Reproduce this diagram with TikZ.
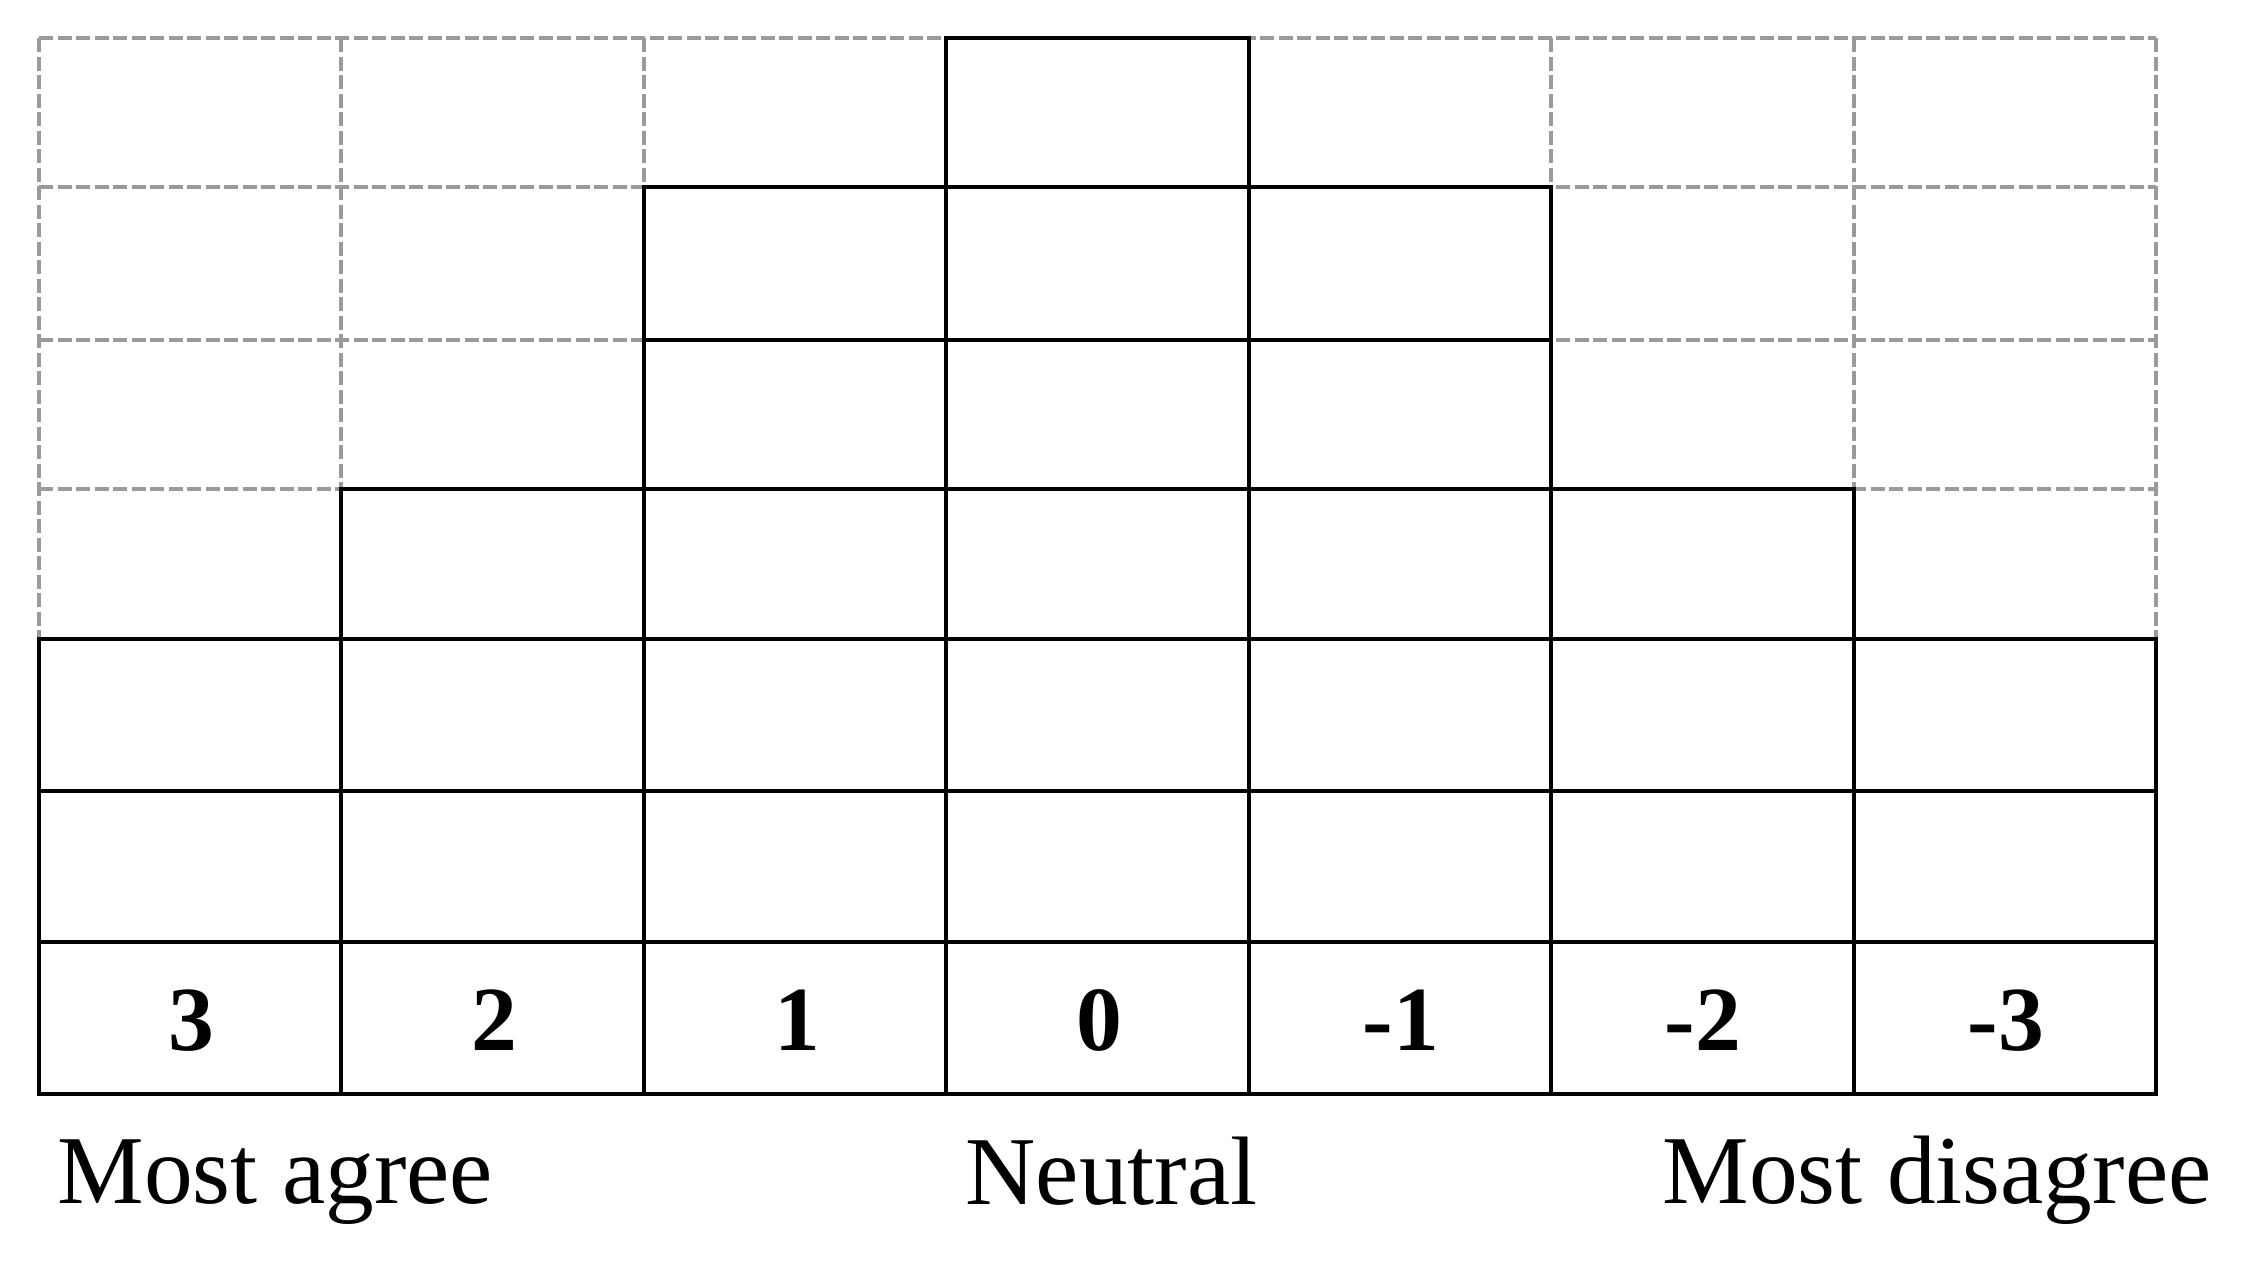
\documentclass[tikz,border=0pt]{standalone}
\usepackage{fontspec}
\setmainfont{Liberation Serif}
\definecolor{gridgray}{HTML}{9A9A9A}
\begin{document}
\begin{tikzpicture}[x=0.3pt,y=-0.3pt,
  gridline/.style={draw=gridgray, line width=1.2pt, dash pattern=on 4.2pt off 1.35pt},
  cellbox/.style={draw=black, line width=1.2pt},
  numlabel/.style={font=\fontsize{27.5}{32}\selectfont\bfseries, inner sep=0pt, anchor=base},
  endlabel/.style={font=\fontsize{29.2}{34}\selectfont, inner sep=0pt, anchor=base west}]
\useasboundingbox (0,0) rectangle (2251,1262);
% dashed background grid
\foreach \x in {39,341.4,643.9,946.3,1248.7,1551.1,1853.6,2156}
  \draw[gridline] (\x,38) -- (\x,1094);
\foreach \y in {38,187,340,489,639,791,942,1094}
  \draw[gridline] (39,\y) -- (2156,\y);
% solid cells
\foreach \i/\t in {0/4,1/3,2/1,3/0,4/1,5/3,6/4}{
  \foreach \j in {\t,...,6}{
    \pgfmathsetmacro\xa{{39,341.4,643.9,946.3,1248.7,1551.1,1853.6,2156}[\i]}
    \pgfmathsetmacro\xb{{39,341.4,643.9,946.3,1248.7,1551.1,1853.6,2156}[\i+1]}
    \pgfmathsetmacro\ya{{38,187,340,489,639,791,942,1094}[\j]}
    \pgfmathsetmacro\yb{{38,187,340,489,639,791,942,1094}[\j+1]}
    \draw[cellbox] (\xa,\ya) rectangle (\xb,\yb);
  }
}
% scale values
\node[numlabel] (v3)  at (191,1050) {3};
\node[numlabel] (v2)  at (494,1050) {2};
\node[numlabel] (v1)  at (797,1050) {1};
\node[numlabel] (v0)  at (1099,1050) {0};
\node[numlabel] (vm1) at (1401,1050) {-1};
\node[numlabel] (vm2) at (1703,1050) {-2};
\node[numlabel] (vm3) at (2006,1050) {-3};
% end labels
\node[endlabel] (agree) at (57,1203) {Most agree};
\node[endlabel] (neutral) at (965,1204) {Neutral};
\node[endlabel] (disagree) at (1662,1203) {Most disagree};
\end{tikzpicture}
\end{document}
